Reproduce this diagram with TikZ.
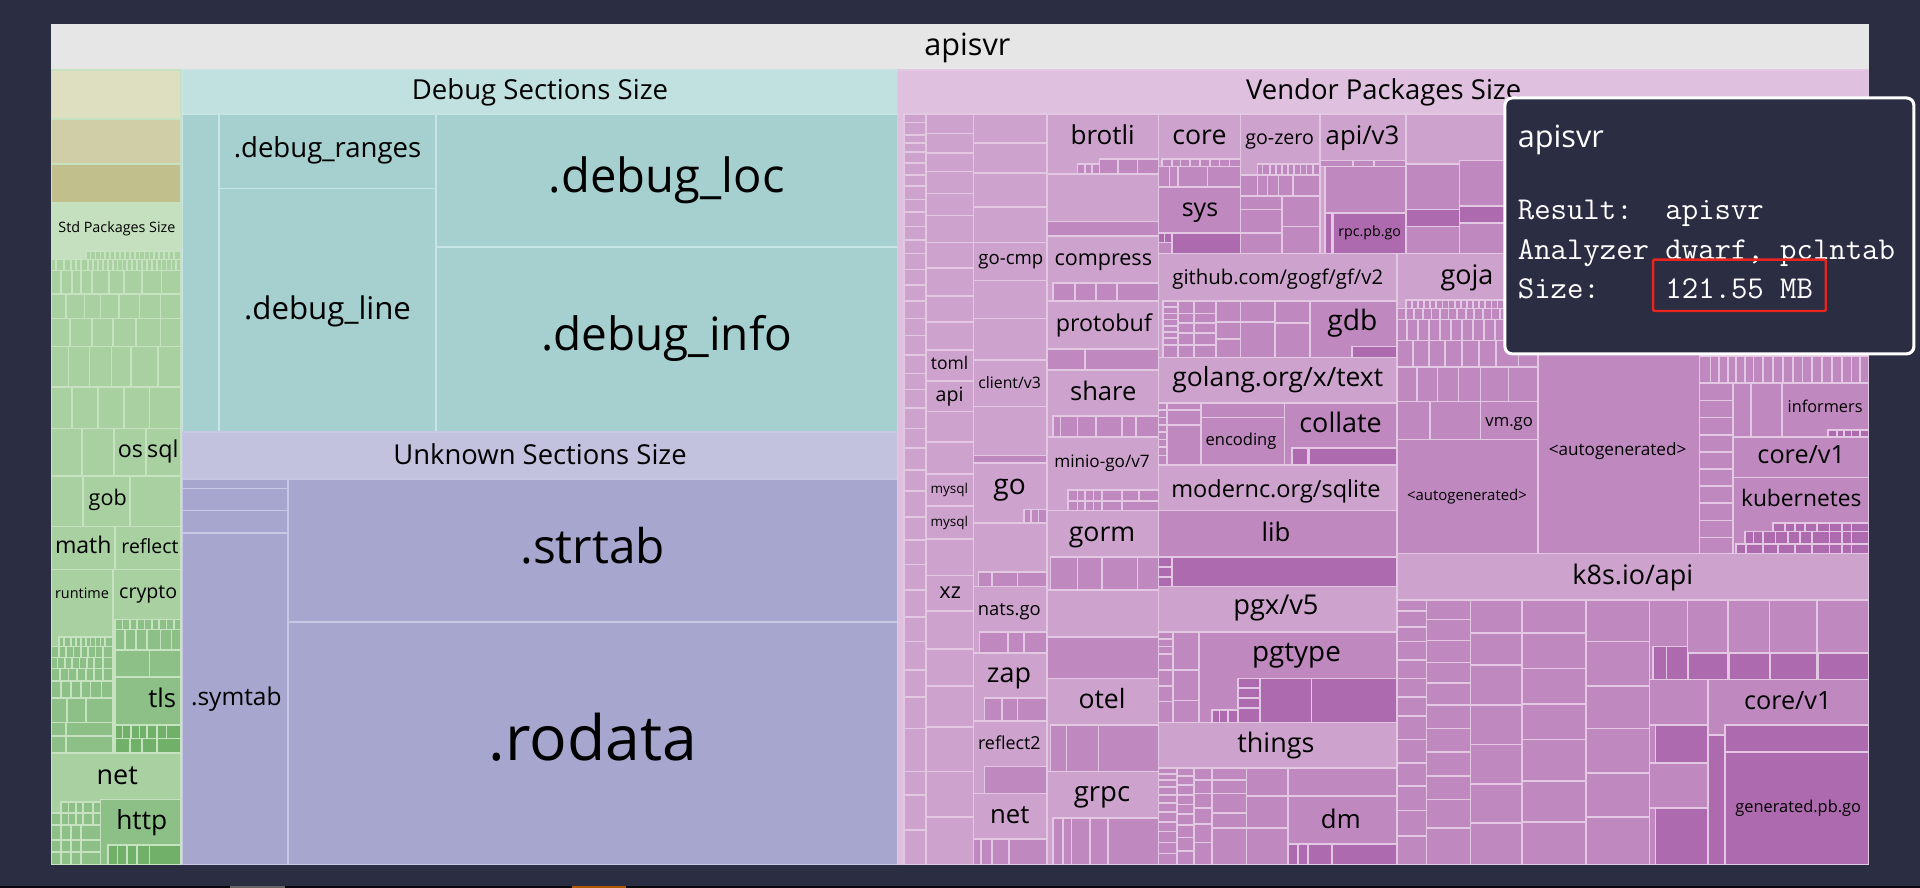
\documentclass[tikz,border=0pt]{standalone}
\usepackage{fontspec}
\setmainfont{Open Sans}
\definecolor{bg}{HTML}{2B2D42}
\definecolor{ttl}{HTML}{E6E6E6}
\definecolor{k1}{HTML}{DEDEC0}
\definecolor{k2}{HTML}{CFCEA6}
\definecolor{k3}{HTML}{C1BF8B}
\definecolor{gH}{HTML}{C5E0BF}
\definecolor{gA}{HTML}{A8D0A1}
\definecolor{gB}{HTML}{8DC087}
\definecolor{gC}{HTML}{70B068}
\definecolor{gL}{HTML}{C6E2C0}
\definecolor{tH}{HTML}{C1E0E0}
\definecolor{tA}{HTML}{A6CFCF}
\definecolor{tL}{HTML}{C8E4E4}
\definecolor{bH}{HTML}{C2C2DF}
\definecolor{bA}{HTML}{A6A6CE}
\definecolor{bL}{HTML}{C8C8E4}
\definecolor{pH}{HTML}{DFC0DF}
\definecolor{pA}{HTML}{CDA3CD}
\definecolor{pB}{HTML}{BF88BF}
\definecolor{pC}{HTML}{AE6AAE}
\definecolor{pL}{HTML}{E2C8E2}
\definecolor{redbox}{HTML}{E8251F}
\newcommand\tmfs[1]{\fontsize{#1pt}{#1pt}\selectfont}
\newcommand\tmR[5]{\path[bd,fill=#5] (#1,#2) rectangle (#3,#4);}
\newcommand\tmCol[5]{\foreach \yy [remember=\yy as \yp (initially #3)] in {#4}{\tmR{#1}{\yp}{#2}{\yy}{#5}}}
\newcommand\tmRow[5]{\foreach \xx [remember=\xx as \xp (initially #3)] in {#4}{\tmR{\xp}{#1}{\xx}{#2}{#5}}}
\newcommand\tmLab[5]{\node[lbl,font=\tmfs{#4}] (#1) at (#2,#3) {#5};}
\tikzset{
  bd/.style={draw=pL,line width=1.4pt},
  lbl/.style={anchor=base,inner sep=0pt,text=black},
  tip/.style={anchor=base west,inner sep=0pt,text=white},
}
\begin{document}
\begin{tikzpicture}[x=1pt,y=-1pt]
\useasboundingbox (0,0) rectangle (1568,725);
\fill[bg] (0,0) rectangle (1568,725);
% title bar
\fill[ttl] (42,20) rectangle (1526,57);
% ---------------- Std packages ----------------
\begin{scope}[bd/.style={draw=gL,line width=1.4pt}]
\tmR{42}{57}{148}{97}{k1}
\tmR{42}{97}{148}{134}{k2}
\tmR{42}{134}{148}{166}{k3}
\tmR{42}{166}{148}{706}{gH}
\tmRow{205}{212}{70}{74,78,82,86,90,94,98,102,106,110,114,118,122,126,130,134,138,142,148}{gA}
\tmRow{212}{221}{42}{46,52,58,62,66,72,76,80,84,88,92,96,100,104,108,112,116,120,124,128,132,136,140,144,148}{gA}
\tmRow{221}{240}{42}{50,59,66,75,89,101,116,132,148}{gA}
\tmRow{240}{260}{42}{54,69,82,97,114,131,148}{gA}
\tmRow{260}{283}{42}{57,75,92,111,131,148}{gA}
\tmRow{283}{316}{42}{56,73,91,107,129,148}{gA}
\tmRow{316}{350}{42}{59,80,101,122,148}{gA}
\tmRow{350}{389}{42}{67,93,119,148}{gA}
\tmRow{389}{430}{42}{68,106,148}{gA}
\tmRow{430}{465}{42}{94,148}{gA}
\tmR{42}{465}{92}{615}{gA}
\tmR{92}{465}{148}{615}{gA}
\tmRow{520}{528}{48}{52,58,62,66,70,74,78,82,86,92}{gB}
\tmRow{528}{537}{42}{48,54,60,66,72,78,84,92}{gB}
\tmRow{537}{546}{42}{47,53,59,65,71,77,84,92}{gB}
\tmRow{546}{556}{42}{49,56,63,70,77,84,92}{gB}
\tmRow{556}{570}{42}{50,58,66,74,83,92}{gB}
\tmRow{570}{590}{42}{55,70,92}{gB}
\tmRow{590}{601}{42}{54,92}{gB}
\tmRow{601}{615}{42}{54,92}{gB}
\tmRow{506}{514}{94}{100,106,112,118,124,130,136,142,148}{gB}
\tmRow{514}{531}{94}{102,111,120,131,140,148}{gB}
\tmRow{531}{553}{94}{122,148}{gB}
\tmR{94}{553}{148}{615}{gB}
\tmRow{592}{603}{94}{100,107,114,120,128,136,148}{gC}
\tmRow{603}{615}{94}{106,116,128,148}{gC}
\tmR{42}{615}{148}{706}{gA}
\tmRow{655}{664}{50}{56,62,68,76,82}{gB}
\tmRow{664}{674}{42}{50,56,62,68,76,82}{gB}
\tmRow{674}{686}{42}{50,58,66,82}{gB}
\tmRow{686}{696}{42}{50,58,66,82}{gB}
\tmRow{696}{706}{42}{50,58,66,82}{gB}
\tmR{82}{653}{148}{706}{gB}
\tmRow{690}{706}{88}{96,104,112,122,148}{gC}
\end{scope}
% ---------------- Debug sections ----------------
\begin{scope}[bd/.style={draw=tL,line width=1.4pt}]
\tmR{149}{57}{733}{353}{tH}
\tmR{149}{93}{179}{353}{tA}
\tmR{179}{93}{356}{154}{tA}
\tmR{179}{154}{356}{353}{tA}
\tmR{356}{93}{733}{202}{tA}
\tmR{356}{202}{733}{353}{tA}
\end{scope}
% ---------------- Unknown sections ----------------
\begin{scope}[bd/.style={draw=bL,line width=1.4pt}]
\tmR{149}{353}{733}{706}{bH}
\tmR{149}{391}{235}{399}{bA}
\tmR{149}{399}{235}{417}{bA}
\tmR{149}{417}{235}{435}{bA}
\tmR{149}{435}{235}{706}{bA}
\tmR{235}{391}{733}{508}{bA}
\tmR{235}{508}{733}{706}{bA}
\end{scope}
% ---------------- Vendor packages ----------------
\tmR{733}{57}{1526}{706}{pH}
\tmCol{738}{756}{93}{100,110,117,124,133,143,152,163,173,185,196,207,220,233,246,260,274,290,305,318,333,350,366,384,401,422,441,461,482,504,524,547,569,595,630,649,678,706}{pA}
\tmCol{756}{795}{93}{109,125,140,158,176,198,219,242,263,286,311,336,361,387,413,440,470,499,530,560,594,630,667,706}{pA}
\tmCol{795}{855}{93}{117,141,169,198,229,260,294,332,372}{pA}
\tmR{795}{372}{855}{378}{pB}
\tmCol{795}{855}{378}{427,479,533,589,648,706}{pA}
\tmRow{416}{427}{836}{842,848,855}{pB}
\tmRow{467}{479}{799}{810,831,855}{pB}
\tmRow{516}{533}{800}{823,836,855}{pB}
\tmRow{570}{589}{804}{818,831,855}{pB}
\tmR{804}{626}{855}{648}{pB}
\tmRow{685}{706}{795}{801,810,824,855}{pB}
% column D
\tmCol{855}{946}{93}{142,193,246,302,357,417,482,554,630,706}{pA}
\tmRow{134}{142}{880}{886,892,898}{pB}
\tmRow{130}{142}{898}{913,929,946}{pB}
\tmR{855}{181}{946}{193}{pB}
\tmRow{231}{246}{860}{878,895,912,946}{pB}
\tmRow{285}{302}{855}{886,946}{pB}
\tmRow{340}{357}{860}{866,880,895,916,928,946}{pB}
\tmRow{400}{409}{872}{880,886,893,900,916,930,946}{pB}
\tmRow{409}{417}{872}{880,886,893,900,916,946}{pB}
\tmRow{455}{482}{858}{880,900,929,946}{pB}
\tmR{855}{520}{946}{554}{pB}
\tmRow{592}{630}{858}{871,897,946}{pB}
\tmRow{668}{706}{860}{868,875,890,905,946}{pB}
% column E top row
\tmR{1148}{93}{1526}{207}{pA}
\tmR{946}{93}{1013}{207}{pA}
\tmR{1013}{93}{1078}{207}{pA}
\tmR{1078}{93}{1148}{207}{pA}
\tmRow{130}{136}{949}{957,964,972,980,988,996,1004,1013}{pB}
\tmRow{136}{153}{946}{955,962,986,1013}{pB}
\tmR{946}{153}{1013}{207}{pB}
\tmR{957}{190}{1013}{207}{pC}
\tmRow{190}{198}{946}{951,957}{pC}
\tmRow{134}{143}{1027}{1031,1037,1042,1047,1052,1057,1062,1067,1072,1078}{pB}
\tmRow{143}{160}{1013}{1027,1035,1044,1056,1078}{pB}
\tmCol{1013}{1047}{160}{171,190,207}{pB}
\tmCol{1047}{1078}{160}{185,207}{pB}
\tmRow{131}{136}{1078}{1105,1122,1148}{pB}
\tmR{1082}{136}{1148}{207}{pB}
\tmR{1089}{174}{1148}{207}{pC}
\tmR{1082}{174}{1088}{207}{pC}
\tmR{1148}{134}{1192}{171}{pB}
\tmR{1192}{131}{1229}{168}{pB}
\tmR{1148}{171}{1192}{185}{pC}
\tmR{1192}{168}{1229}{182}{pC}
\tmR{1148}{185}{1192}{207}{pB}
\tmR{1192}{182}{1229}{207}{pB}
% gogf
\tmR{946}{207}{1141}{292}{pA}
\tmCol{950}{962}{246}{251,256,261,266,271,276,282,292}{pB}
\tmCol{962}{975}{246}{256,264,272,282,292}{pB}
\tmCol{975}{993}{246}{256,264,272,282,292}{pB}
\tmCol{993}{1013}{246}{263,277,292}{pB}
\tmCol{1013}{1041}{246}{263,292}{pB}
\tmCol{1041}{1070}{246}{264,292}{pB}
\tmR{1070}{246}{1141}{292}{pB}
\tmR{1104}{283}{1141}{292}{pC}
% golang text
\tmR{946}{292}{1141}{380}{pA}
\tmCol{946}{953}{329}{335,341,347,353,359,365,372,380}{pB}
\tmCol{953}{981}{329}{335,347,380}{pB}
\tmR{981}{329}{1049}{341}{pB}
\tmR{981}{341}{1049}{380}{pB}
\tmR{1049}{329}{1141}{380}{pB}
\tmR{1055}{366}{1068}{380}{pC}
\tmR{1069}{366}{1141}{380}{pC}
% sqlite
\tmR{946}{380}{1141}{479}{pA}
\tmR{946}{417}{1141}{479}{pB}
\tmR{957}{455}{1141}{479}{pC}
\tmCol{946}{957}{455}{463,471,479}{pC}
% pgx
\tmR{946}{479}{1141}{590}{pA}
\tmCol{946}{958}{516}{522,528,534,547,560,573,590}{pB}
\tmCol{958}{979}{516}{547,572,590}{pB}
\tmR{979}{516}{1141}{590}{pB}
\tmRow{554}{590}{1029}{1071,1141}{pC}
\tmCol{1011}{1029}{554}{562,570,578,590}{pC}
\tmRow{580}{590}{990}{996,1003,1011}{pC}
% things
\tmR{946}{590}{1141}{706}{pA}
\tmCol{946}{961}{627}{632,637,643,649,656,663,671,679,688,697,706}{pB}
\tmCol{961}{975}{627}{634,641,649,657,665,674,684,695,706}{pB}
\tmCol{975}{990}{627}{637,648,660,673,688,706}{pB}
\tmCol{990}{1018}{627}{637,648,664,676,706}{pB}
\tmCol{1018}{1052}{627}{650,676,706}{pB}
\tmR{1052}{627}{1141}{650}{pB}
\tmR{1052}{650}{1141}{706}{pB}
\tmR{1088}{689}{1141}{706}{pC}
\tmRow{689}{706}{1052}{1060,1068,1088}{pC}
% goja
\tmR{1141}{207}{1256}{359}{pA}
\tmRow{245}{252}{1148}{1153,1158,1163,1168,1173,1178,1183,1188,1193,1198,1203,1208,1213,1218,1223,1228,1233,1238,1243,1248,1256}{pB}
\tmRow{252}{261}{1141}{1148,1155,1162,1169,1176,1183,1190,1197,1204,1211,1218,1225,1232,1240,1248,1256}{pB}
\tmRow{261}{278}{1141}{1149,1158,1167,1176,1185,1194,1203,1212,1221,1230,1239,1247,1256}{pB}
\tmRow{278}{300}{1141}{1154,1167,1180,1194,1208,1222,1240,1256}{pB}
\tmRow{300}{328}{1141}{1157,1174,1191,1209,1232,1256}{pB}
\tmRow{328}{359}{1141}{1168,1209,1256}{pB}
\tmR{1141}{359}{1256}{452}{pB}
% column G
\tmR{1256}{207}{1388}{452}{pB}
% column H
\tmR{1388}{207}{1526}{452}{pA}
\tmRow{291}{313}{1388}{1397,1404,1411,1418,1425,1432,1440,1448,1456,1464,1472,1480,1488,1496,1504,1512,1519,1526}{pB}
\tmCol{1388}{1415}{313}{327,341,355,369,383,397,411,425,439,452}{pB}
\tmR{1415}{313}{1430}{357}{pB}
\tmR{1430}{313}{1455}{357}{pB}
\tmR{1455}{313}{1526}{357}{pB}
\tmRow{351}{357}{1493}{1500,1506,1512,1519,1526}{pC}
\tmR{1415}{357}{1526}{390}{pB}
\tmR{1415}{390}{1526}{452}{pB}
\tmRow{427}{434}{1448}{1458,1466,1474,1484,1494,1504,1512,1526}{pC}
\tmRow{434}{444}{1425}{1432,1440,1450,1460,1470,1480,1494,1504,1512,1526}{pC}
\tmRow{444}{452}{1418}{1426,1440,1452,1466,1480,1494,1504,1512,1526}{pC}
% k8s.io/api
\tmR{1141}{452}{1526}{706}{pA}
\tmCol{1141}{1165}{490}{499,512,524,539,554,569,585,604,623,642,662,683,706}{pB}
\tmCol{1165}{1201}{490}{506,523,541,558,576,595,614,634,653,676,706}{pB}
\tmCol{1201}{1243}{490}{517,543,576,608,640,672,706}{pB}
\tmCol{1243}{1295}{490}{517,546,575,604,638,671,706}{pB}
\tmCol{1295}{1347}{490}{524,560,595,631,667,706}{pB}
\tmRow{490}{555}{1347}{1378,1411,1445,1484,1526}{pB}
\tmRow{528}{555}{1350}{1361,1378}{pC}
\tmR{1379}{533}{1411}{555}{pC}
\tmR{1412}{533}{1445}{555}{pC}
\tmR{1446}{533}{1484}{555}{pC}
\tmR{1485}{533}{1526}{555}{pC}
\tmCol{1347}{1395}{555}{592,623,660,706}{pB}
\tmR{1352}{592}{1395}{623}{pC}
\tmR{1352}{660}{1395}{706}{pC}
\tmR{1395}{555}{1526}{706}{pB}
\tmR{1395}{600}{1409}{706}{pC}
\tmR{1409}{592}{1526}{614}{pC}
\tmR{1409}{614}{1526}{706}{pC}
% ---------------- labels ----------------
\tmLab{lTitle}{790}{45}{25}{apisvr}
\tmLab{lDebug}{441}{81}{22.5}{Debug Sections Size}
\tmLab{lRanges}{267.5}{129}{22.5}{.debug\_ranges}
\tmLab{lLine}{267.5}{261}{25.5}{.debug\_line}
\tmLab{lLoc}{544.5}{157.5}{38.5}{.debug\_loc}
\tmLab{lInfo}{544.5}{286.6}{37.5}{.debug\_info}
\tmLab{lUnk}{441}{379.7}{22.4}{Unknown Sections Size}
\tmLab{lStrtab}{484}{460}{39}{.strtab}
\tmLab{lRodata}{484}{621}{51}{.rodata}
\tmLab{lSymtab}{193}{576}{20}{.symtab}
\tmLab{lStd}{95.5}{190}{11.7}{Std Packages Size}
\tmLab{lOs}{106.5}{373.5}{19}{os}
\tmLab{lSql}{133}{373.5}{19}{sql}
\tmLab{lGob}{88}{413}{17.6}{gob}
\tmLab{lMath}{68}{452.4}{18.8}{math}
\tmLab{lReflect}{122.5}{452.4}{15.9}{reflect}
\tmLab{lRuntime}{67}{488.6}{11.8}{runtime}
\tmLab{lCrypto}{121}{488.6}{16}{crypto}
\tmLab{lTls}{132.5}{577.6}{21}{tls}
\tmLab{lNetS}{95.75}{641}{22}{net}
\tmLab{lHttp}{115.75}{677.8}{21.5}{http}
\tmLab{lVendor}{1130}{81}{22.4}{Vendor Packages Size}
\tmLab{lToml}{775.5}{302}{14.3}{toml}
\tmLab{lApiB}{775.5}{328}{16}{api}
\tmLab{lMysqlA}{775.3}{403.4}{11}{mysql}
\tmLab{lMysqlB}{775.3}{430}{11}{mysql}
\tmLab{lXz}{776}{488.6}{17.7}{xz}
\tmLab{lGoCmp}{825.5}{216.4}{15.2}{go-cmp}
\tmLab{lClient}{824.5}{317}{12.9}{client/v3}
\tmLab{lGo}{824.5}{404}{23}{go}
\tmLab{lNats}{824.3}{503}{15}{nats.go}
\tmLab{lZap}{824}{557.5}{22}{zap}
\tmLab{lReflectB}{824.3}{612.4}{14.6}{reflect2}
\tmLab{lNetV}{824.6}{672.9}{21}{net}
\tmLab{lBrotli}{900.5}{118.4}{21.3}{brotli}
\tmLab{lCompress}{901}{217}{17.6}{compress}
\tmLab{lProtobuf}{901.5}{271}{19}{protobuf}
\tmLab{lShare}{901}{327}{20.9}{share}
\tmLab{lMinio}{900}{381.6}{14}{minio-go/v7}
\tmLab{lGorm}{900}{442}{21.8}{gorm}
\tmLab{lOtel}{900}{579}{21.7}{otel}
\tmLab{lGrpc}{900}{654.6}{22.5}{grpc}
\tmLab{lCore}{979.5}{118.4}{21.8}{core}
\tmLab{lGoZero}{1045}{117.6}{16}{go-zero}
\tmLab{lApiV}{1112.7}{118.4}{21}{api/v3}
\tmLab{lSys}{980}{177}{20.4}{sys}
\tmLab{lRpc}{1118.5}{193}{11.6}{rpc.pb.go}
\tmLab{lGogf}{1043.5}{232}{16.6}{github.com/gogf/gf/v2}
\tmLab{lGdb}{1104.5}{269.5}{23}{gdb}
\tmLab{lText}{1043.5}{315.7}{21.6}{golang.org/x/text}
\tmLab{lEnc}{1013.5}{364}{13.5}{encoding}
\tmLab{lCollate}{1094.8}{353}{22}{collate}
\tmLab{lSqlite}{1042}{406}{19.2}{modernc.org/sqlite}
\tmLab{lLib}{1042}{442}{21}{lib}
\tmLab{lPgx}{1042}{502}{22.3}{pgx/v5}
\tmLab{lPgtype}{1058.8}{540.3}{22.7}{pgtype}
\tmLab{lThings}{1042}{614.6}{22}{things}
\tmLab{lDm}{1095}{676.4}{21}{dm}
\tmLab{lGoja}{1198}{232.7}{22}{goja}
\tmLab{lVm}{1232.5}{347.9}{13.6}{vm.go}
\tmLab{lAutoF}{1198}{408.8}{12.2}{<autogenerated>}
\tmLab{lAutoG}{1321}{371.6}{14}{<autogenerated>}
\tmLab{lInformers}{1490.5}{337}{13.3}{informers}
\tmLab{lCoreA}{1471}{378.4}{20.6}{core/v1}
\tmLab{lKube}{1471}{413.7}{18.6}{kubernetes}
\tmLab{lK8s}{1333.5}{477.7}{22}{k8s.io/api}
\tmLab{lCoreB}{1460}{579.8}{20.6}{core/v1}
\tmLab{lGen}{1468.5}{663.6}{13.4}{generated.pb.go}
% ---------------- tooltip ----------------
\path[draw=white,line width=2.5pt,fill=bg,rounded corners=6pt] (1229,80) rectangle (1563,289);
\node[tip,font=\tmfs{25}] (tTitle) at (1239.4,120.3) {apisvr};
\node[tip,font=\ttfamily\tmfs{26}] (tResult) at (1239.4,179.6) {Result:\ \ apisvr};
\node[tip,font=\ttfamily\tmfs{26}] (tAnalyzer) at (1239.4,211.8) {Analyzer dwarf, pclntab};
\node[tip,font=\ttfamily\tmfs{26}] (tSize) at (1239.4,243.6) {Size:\ \ \ \ 121.55 MB};
\path[draw=redbox,line width=2pt,rounded corners=1pt] (1350,212) rectangle (1491,254);
% bottom strip
\fill[black!80!bg] (0,723.6) rectangle (1568,725);
\fill[black!60!white] (188,723.6) rectangle (233,725);
\fill[orange!70!black] (467,723.6) rectangle (511,725);
\end{tikzpicture}
\end{document}
